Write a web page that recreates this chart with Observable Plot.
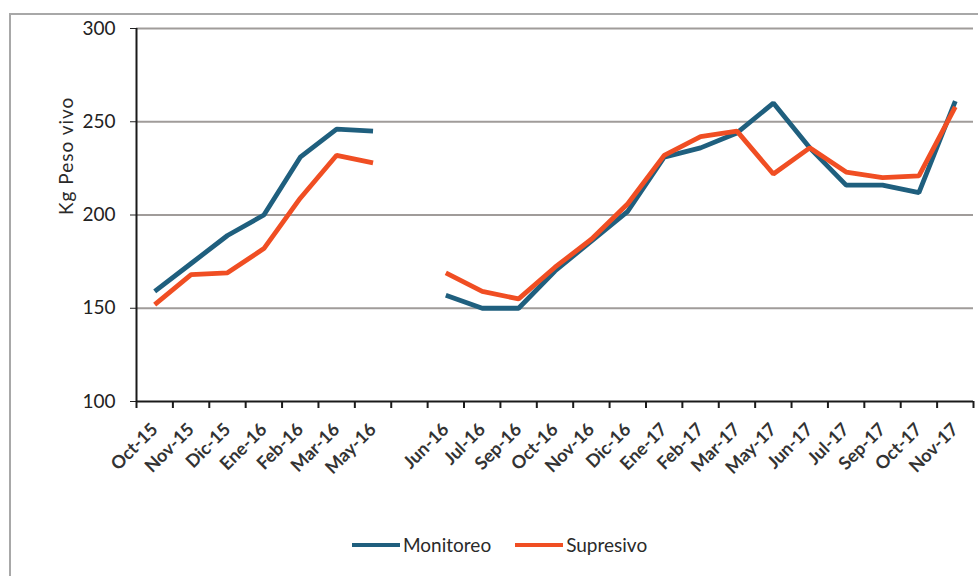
<!DOCTYPE html>
<html>
<head>
<meta charset="utf-8">
<script src="https://cdn.jsdelivr.net/npm/d3@7"></script>
<script src="https://cdn.jsdelivr.net/npm/@observablehq/plot@0.6"></script>
<style>
  html, body { margin: 0; padding: 0; background: #fff; }
  body { width: 978px; height: 576px; position: relative; overflow: hidden; font-family: Lato, "Open Sans", sans-serif; }
  #frame { position: absolute; left: 9px; top: 13px; width: 1000px; height: 600px; border-left: 2px solid #a8a8a8; border-top: 2px solid #a8a8a8; }
  #chart { position: absolute; left: 0; top: 0; }
  #legend { position: absolute; top: 533px; left: 352px; display: flex; align-items: center; font-size: 19px; color: #2a2a2a; }
  .item { display: flex; align-items: center; margin-right: 24px; }
  .sw { width: 48px; height: 4px; margin-right: 3px; }
</style>
</head>
<body>
<div id="frame"></div>
<div id="chart"></div>
<div id="legend"></div>
<script>
const categories = ["Oct-15","Nov-15","Dic-15","Ene-16","Feb-16","Mar-16","May-16"," ","Jun-16","Jul-16","Sep-16","Oct-16","Nov-16","Dic-16","Ene-17","Feb-17","Mar-17","May-17","Jun-17","Jul-17","Sep-17","Oct-17","Nov-17"];
const monitoreo = [159,174,189,200,231,246,245,null,157,150,150,170,186,202,231,236,244,260,236,216,216,212,261];
const supresivo = [152,168,169,182,209,232,228,null,169,159,155,172,187,206,232,242,245,222,236,223,220,221,258];
const seriesNames = ["Monitoreo","Supresivo"];
const seriesColors = ["#1f5f7e","#f04e23"];
const yTicks = [100,150,200,250,300];
const yLabel = "Kg Peso vivo";

const data = [];
categories.forEach((c, i) => {
  data.push({cat: c, series: seriesNames[0], value: monitoreo[i]});
  data.push({cat: c, series: seriesNames[1], value: supresivo[i]});
});

const W = 978, H = 500, mL = 136, mR = 5, mT = 28, mB = 99;
const bw = (W - mL - mR) / categories.length;
const yPerPx = (yTicks[yTicks.length-1] - yTicks[0]) / (H - mT - mB);

const chart = Plot.plot({
  width: W, height: H,
  marginLeft: mL, marginRight: mR, marginTop: mT, marginBottom: mB,
  style: {fontFamily: "Lato, sans-serif", fontSize: "19px", color: "#222", background: "transparent"},
  x: {type: "band", domain: categories, padding: 0, round: false, axis: null},
  y: {domain: [yTicks[0], yTicks[yTicks.length-1]], ticks: yTicks, tickSize: 6, tickPadding: 15, label: null},
  color: {domain: seriesNames, range: seriesColors},
  marks: [
    Plot.ruleY(yTicks.slice(1), {stroke: "#a09c9a", strokeWidth: 2}),
    Plot.ruleY([yTicks[0]], {stroke: "#1a1a1a", strokeWidth: 2}),
    Plot.ruleX([categories[0]], {stroke: "#1a1a1a", strokeWidth: 2, dx: -bw/2}),
    Plot.ruleX(categories, {x: d => d, y1: yTicks[0], y2: yTicks[0] - 7*yPerPx, dx: -bw/2, stroke: "#1a1a1a", strokeWidth: 2}),
    Plot.ruleX([categories[categories.length-1]], {x: d => d, y1: yTicks[0], y2: yTicks[0] - 7*yPerPx, dx: bw/2, stroke: "#1a1a1a", strokeWidth: 2}),
    Plot.line(data, {x: "cat", y: "value", z: "series", stroke: "series", strokeWidth: 4.8, strokeLinejoin: "miter", strokeLinecap: "butt"}),
    Plot.text(categories, {x: d => d, y: yTicks[0], text: d => d, rotate: -45, textAnchor: "end", dx: 0, dy: 25, fontSize: 18, fontWeight: "bold", fill: "#333"}),
    Plot.text([yLabel], {frameAnchor: "left", text: d => d, rotate: -90, dx: -70, fontSize: 19, fill: "#2a2a2a"})
  ]
});
document.getElementById("chart").appendChild(chart);
chart.querySelectorAll("text").forEach(t => { if (t.textContent === yLabel) t.setAttribute("letter-spacing", "1"); });

const legend = document.getElementById("legend");
seriesNames.forEach((n, i) => {
  const it = document.createElement("div");
  it.className = "item";
  const sw = document.createElement("div");
  sw.className = "sw";
  sw.style.background = seriesColors[i];
  const t = document.createElement("span");
  t.textContent = n;
  it.appendChild(sw); it.appendChild(t);
  legend.appendChild(it);
});
</script>
</body>
</html>
